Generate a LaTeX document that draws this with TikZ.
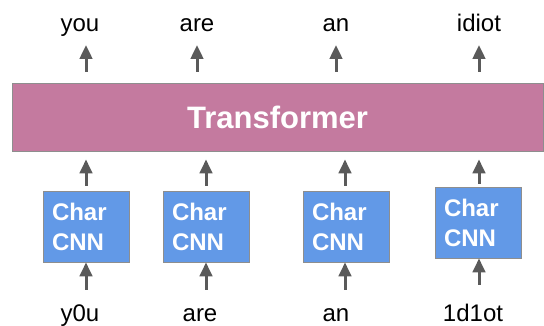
\documentclass[tikz,border=0pt]{standalone}
\usepackage{fontspec}
\setmainfont{Liberation Sans}
\usepackage{tikz}
\usetikzlibrary{positioning,arrows.meta,calc}

\definecolor{trpink}{HTML}{C47A9F}
\definecolor{cnnblue}{HTML}{6299E7}
\definecolor{arrgray}{HTML}{5A5A5A}
\definecolor{edgegray}{HTML}{8E8E8E}

\begin{document}
\begin{tikzpicture}[x=1pt,y=1pt,
    word/.style={anchor=base,inner sep=0pt,font=\fontsize{24}{28}\selectfont},
    cnn/.style={draw=edgegray,line width=0.8pt,fill=cnnblue,text=white,
        minimum width=86pt,minimum height=71pt,text width=68pt,inner sep=9pt,
        align=left,font=\bfseries\fontsize{24}{30}\selectfont},
    arr/.style={draw=arrgray,line width=3pt,-{Triangle[width=12.5pt,length=14pt]}}]
    \useasboundingbox (0,0) rectangle (544,326);
    \node[draw=edgegray,line width=0.8pt,fill=trpink,text=white,
        minimum width=531pt,minimum height=68pt,
        font=\bfseries\fontsize{31}{36}\selectfont] (tr) at (277.5,209) {Transformer};
    % char cnn boxes
    \node[cnn] (cnn1) at (86,99.5) {Char\\CNN};
    \node[cnn] (cnn2) at (206,99.5) {Char\\CNN};
    \node[cnn] (cnn3) at (346,99.5) {Char\\CNN};
    \node[cnn] (cnn4) at (478,103.5) {Char\\CNN};
    % output words
    \node[word] (out1) at (80,294) {you};
    \node[word] (out2) at (197,294) {are};
    \node[word] (out3) at (336,294) {an};
    \node[word] (out4) at (479,294) {idiot};
    % noisy input words
    \node[word] (in1) at (80,4.5) {y0u};
    \node[word] (in2) at (200,4.5) {are};
    \node[word] (in3) at (336,4.5) {an};
    \node[word] (in4) at (473,4.5) {1d1ot};
    % arrow ends
    \coordinate (t1) at (86,281);
    \coordinate (t2) at (197,281);
    \coordinate (t3) at (336,281);
    \coordinate (t4) at (479,281);
    \coordinate (b1) at (86,36);
    \coordinate (b2) at (206,36);
    \coordinate (b3) at (345,36);
    \coordinate (b4) at (479,41);
    \foreach \i in {1,...,4}
        \draw[arr,shorten <=11pt] (tr.north -| t\i) -- (t\i);
    \draw[arr,shorten <=5pt,shorten >=8pt] (cnn1.north) -- (cnn1 |- tr.south);
    \draw[arr,shorten <=5pt,shorten >=8pt] (cnn2.north) -- (cnn2 |- tr.south);
    \draw[arr,shorten <=5pt,shorten >=8pt] (cnn3.north -| b3) -- (b3 |- tr.south);
    \draw[arr,shorten <=3pt,shorten >=8pt] (cnn4.north -| b4) -- (b4 |- tr.south);
    \draw[arr] (b1) -- (cnn1.south);
    \draw[arr] (b2) -- (cnn2.south);
    \draw[arr] (b3) -- (cnn3.south -| b3);
    \draw[arr] (b4) -- (cnn4.south -| b4);
\end{tikzpicture}
\end{document}
